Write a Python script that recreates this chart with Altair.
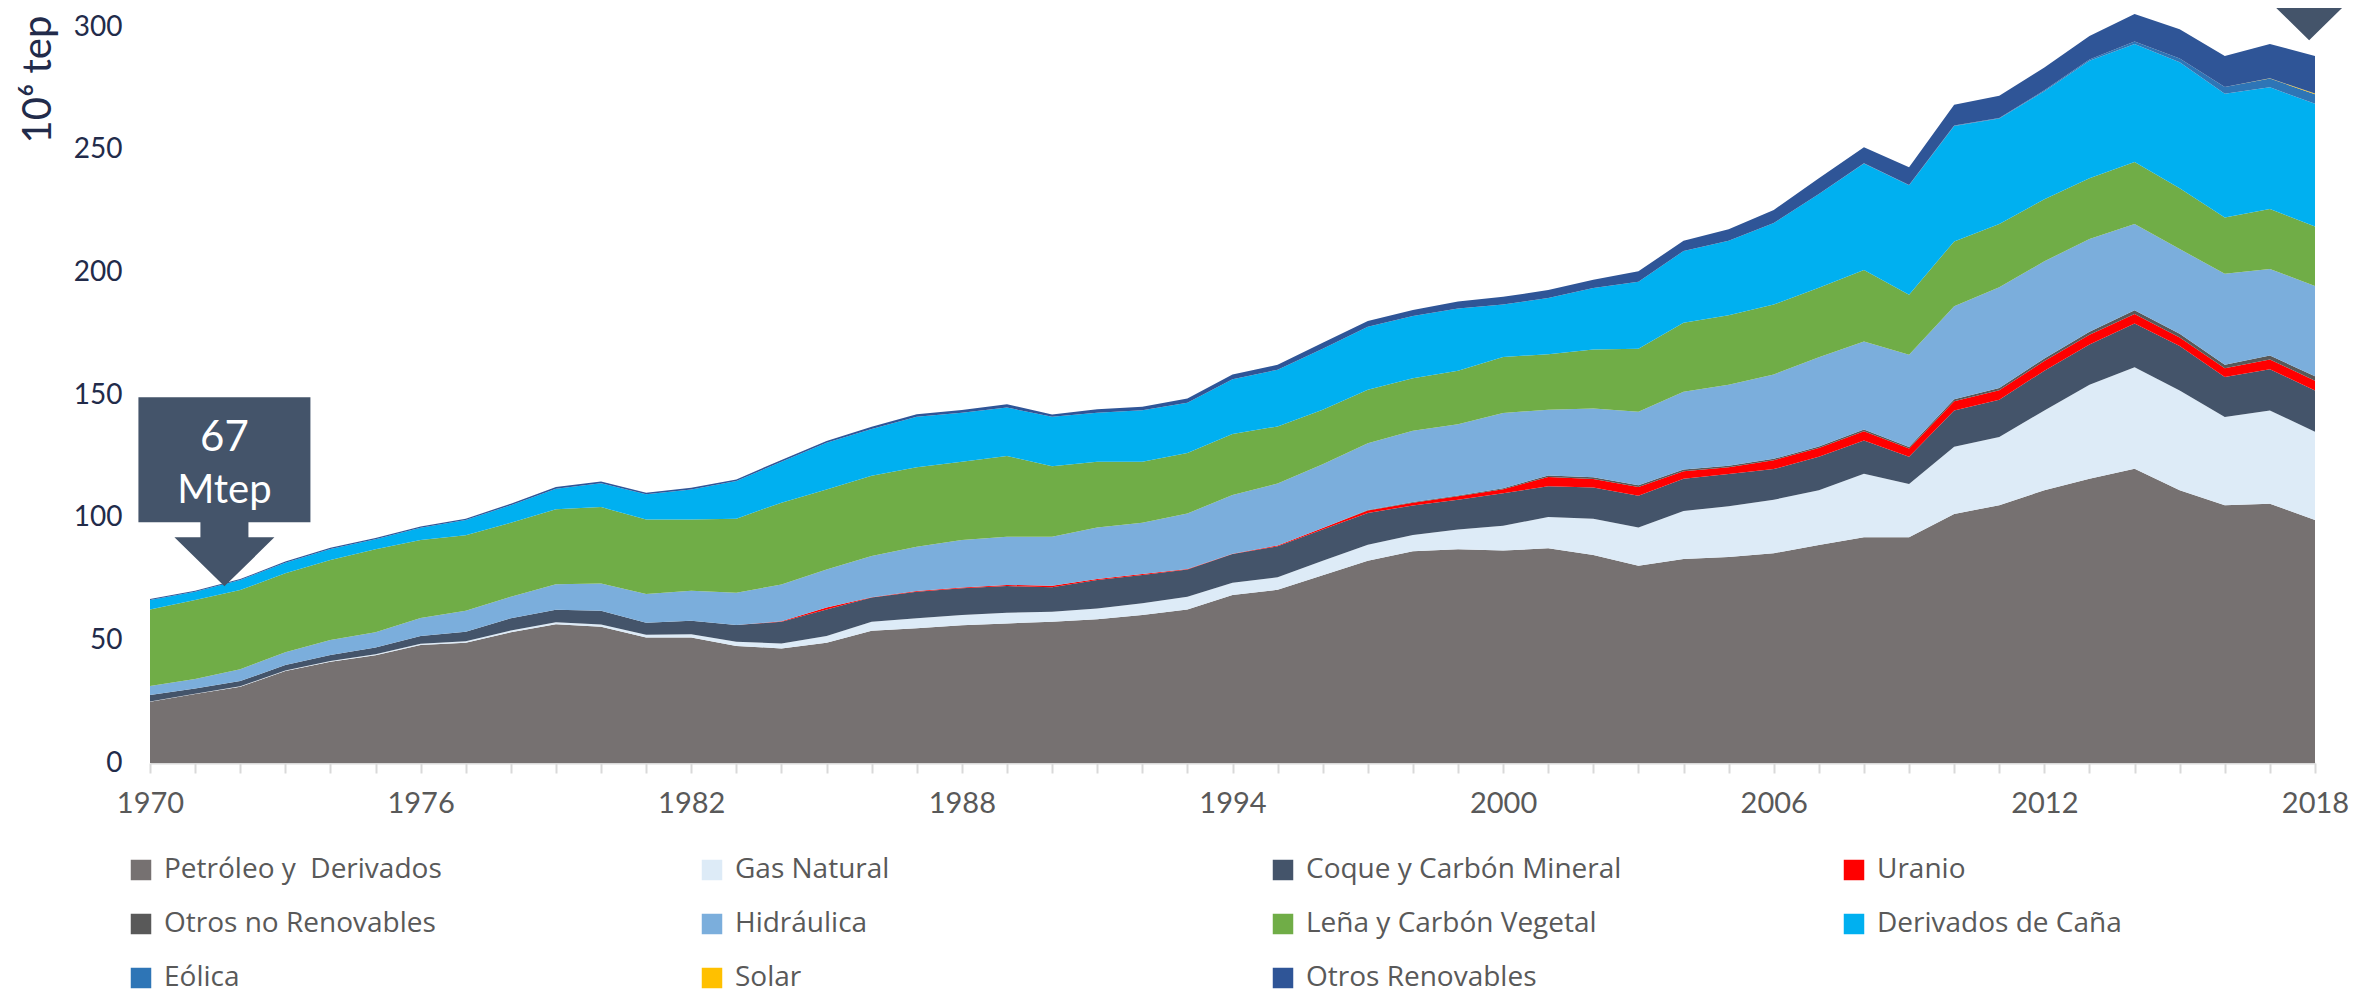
import altair as alt
import pandas as pd

# ---------------- data (Mtep) ----------------
years = list(range(1970, 2019))

petroleo = [25.0, 28.1, 31.1, 37.5, 41.3, 43.9, 48.1, 49.0, 53.3, 56.6,
            55.5, 51.2, 51.2, 47.7, 46.7, 49.0, 53.9, 54.9, 56.1, 56.9,
            57.6, 58.6, 60.3, 62.6, 68.5, 70.6, 76.5, 82.4, 86.3, 87.1,
            86.6, 87.5, 84.8, 80.4, 83.2, 84.0, 85.5, 88.9, 92.0, 92.0,
            101.5, 105.1, 111.2, 115.9, 119.9, 111.2, 105.1, 105.7, 99.1]
gas_natural = [0.1, 0.1, 0.2, 0.2, 0.3, 0.4, 0.5, 0.6, 0.7, 0.8,
               1.0, 1.1, 1.3, 1.7, 2.0, 2.8, 3.7, 4.1, 4.2, 4.3,
               4.1, 4.4, 4.8, 5.2, 5.0, 5.1, 5.9, 6.6, 6.6, 8.1,
               10.1, 12.8, 14.8, 15.6, 19.5, 20.7, 21.8, 22.3, 25.9, 21.7,
               27.4, 27.8, 32.5, 38.3, 41.4, 40.6, 35.9, 38.0, 35.9]
coque_carbon = [2.6, 2.2, 2.1, 2.2, 2.4, 2.8, 3.2, 3.9, 5.0, 5.1,
                5.6, 4.9, 5.5, 6.8, 8.9, 10.8, 9.9, 10.8, 10.9, 10.9,
                9.9, 11.6, 11.5, 11.1, 11.7, 12.6, 12.8, 12.9, 12.1, 12.1,
                13.3, 12.5, 12.7, 12.9, 13.2, 13.1, 12.5, 13.6, 13.6, 11.1,
                14.8, 15.2, 16.2, 16.4, 17.8, 18.2, 16.3, 16.8, 16.8]
uranio = [0.0] * 14 + [0.2, 0.8, 0.1, 0.3, 0.3, 0.5,
                       0.6, 0.4, 0.4, 0.2, 0.1, 0.4, 0.6, 1.0, 1.1, 1.4,
                       1.6, 3.8, 3.5, 3.6, 3.0, 2.8, 3.6, 3.6, 3.7, 3.4,
                       3.8, 3.8, 4.0, 4.0, 3.9, 3.4, 3.6, 4.0, 4.0]
otros_no_renov = [0.0] * 27 + [0.2, 0.3, 0.3,
                               0.4, 0.6, 0.7, 0.7, 0.7, 0.6, 0.6, 0.6, 0.7, 0.6,
                               0.8, 1.0, 1.0, 1.2, 1.5, 1.6, 1.4, 1.6, 1.8]
hidraulica = [3.7, 3.8, 4.8, 5.2, 6.1, 6.2, 7.3, 8.6, 8.8, 10.4,
              11.1, 11.7, 12.2, 13.2, 15.0, 15.5, 16.8, 18.0, 19.4, 19.6,
              20.0, 21.0, 20.9, 22.6, 23.9, 25.2, 26.0, 27.2, 29.0, 29.1,
              30.7, 26.8, 28.0, 30.0, 31.7, 33.0, 34.4, 36.4, 35.9, 37.6,
              37.9, 41.0, 39.6, 37.8, 35.2, 34.5, 37.1, 35.3, 36.8]
lena = [31.2, 32.2, 32.3, 32.2, 32.6, 33.8, 31.8, 30.7, 30.1, 30.5,
        31.1, 30.4, 29.1, 30.2, 33.3, 32.6, 32.7, 32.4, 31.9, 32.9,
        28.8, 26.8, 24.9, 24.7, 24.9, 23.3, 22.2, 21.8, 21.4, 21.8,
        22.8, 22.6, 24.0, 25.7, 28.1, 28.3, 28.5, 28.3, 29.2, 24.5,
        26.4, 25.8, 25.3, 24.7, 25.3, 24.8, 22.9, 24.4, 24.3]
cana = [3.8, 3.4, 4.1, 4.3, 4.5, 4.1, 5.0, 6.2, 7.2, 8.4,
        9.7, 10.2, 12.2, 15.3, 16.7, 19.0, 19.0, 20.6, 20.0, 19.8,
        20.1, 20.0, 21.0, 20.4, 22.3, 23.1, 24.9, 25.7, 25.4, 25.4,
        21.4, 22.9, 25.1, 27.3, 29.3, 30.4, 33.2, 38.2, 43.4, 44.6,
        47.0, 43.0, 44.0, 47.9, 48.1, 51.3, 50.5, 49.6, 50.0]
eolica = [0.0] * 36 + [0.02, 0.05, 0.06, 0.1,
                       0.2, 0.2, 0.4, 0.6, 1.0, 1.6, 2.7, 3.6, 3.9]
solar = [0.0] * 46 + [0.01, 0.07, 0.3]
otros_renov = [0.4, 0.4, 0.4, 0.5, 0.5, 0.5, 0.5, 0.6, 0.6, 0.7,
               0.7, 0.7, 0.7, 0.7, 0.7, 0.8, 1.0, 1.1, 1.1, 1.3,
               1.0, 1.4, 1.4, 1.8, 2.0, 2.0, 2.4, 2.4, 2.4, 2.8,
               3.1, 3.3, 3.4, 4.2, 4.2, 4.7, 5.3, 6.4, 6.5, 7.2,
               8.5, 9.1, 9.3, 9.5, 11.2, 11.9, 12.7, 14.0, 15.3]

fuentes = ["Petróleo y\u00a0 Derivados", "Gas Natural", "Coque y Carbón Mineral",
           "Uranio", "Otros no Renovables", "Hidráulica", "Leña y Carbón Vegetal",
           "Derivados de Caña", "Eólica", "Solar", "Otros Renovables"]
colores = ["#767171", "#DDEBF7", "#44546A", "#FF0000", "#595959", "#7BAEDC",
           "#70AD47", "#00B0F0", "#2E75B6", "#FFC000", "#2F5597"]
valores = [petroleo, gas_natural, coque_carbon, uranio, otros_no_renov, hidraulica,
           lena, cana, eolica, solar, otros_renov]
y_ticks = [0, 50, 100, 150, 200, 250, 300]

# callouts: tip position (year, Mtep) and text
callout_year = [1971.65, 2017.87]
callout_valor = [72.0, 294.6]
callout_numero = ["67"]
callout_unidad = ["Mtep"]

rows = []
for k, (name, vals) in enumerate(zip(fuentes, valores)):
    for yr, v in zip(years, vals):
        rows.append({"year": yr, "valor": v, "fuente": name, "orden": k})
df = pd.DataFrame(rows)

df_callout = pd.DataFrame({"year": callout_year, "valor": callout_valor})
df_text = pd.DataFrame({"year": callout_year[:1], "valor": callout_valor[:1],
                        "numero": callout_numero, "unidad": callout_unidad})

W, H = 2165, 736
x_scale = alt.Scale(domain=[1970, 2018], nice=False, zero=False)
y_scale = alt.Scale(domain=[0, 300], nice=False)

x_axis = alt.Axis(values=years, format="d",
                  labelExpr="datum.value % 6 == 2 ? datum.label : ''",
                  labelFlush=False, labelOverlap=False,
                  labelFont="Lato", labelFontSize=29, labelColor="#595959",
                  labelPadding=16, tickSize=10, tickWidth=2, tickColor="#D9D9D9",
                  domainColor="#D9D9D9", domainWidth=2, grid=False, title=None)
y_axis = alt.Axis(values=y_ticks, domain=False, ticks=False,
                  grid=False, labelFont="Lato", labelFontSize=28,
                  labelColor="#222B4A", labelPadding=28,
                  title="10⁶ tep", titleFont="Lato", titleFontSize=40,
                  titleFontWeight="normal", titleColor="#222B4A",
                  titleAngle=270, titleX=-112, titleY=52,
                  titleAlign="center", titleBaseline="middle")

areas = alt.Chart(df).mark_area(interpolate="linear", strokeWidth=0).encode(
    x=alt.X("year:Q", scale=x_scale, axis=x_axis),
    y=alt.Y("valor:Q", stack="zero", scale=y_scale, axis=y_axis),
    color=alt.Color("fuente:N", scale=alt.Scale(domain=fuentes, range=colores),
                    legend=alt.Legend(orient="none", legendX=-23, legendY=829,
                                      columns=4, direction="horizontal", gridAlign="all",
                                      symbolType="square", symbolSize=420,
                                      symbolStrokeWidth=0, labelFont="Open Sans",
                                      labelFontSize=28, labelColor="#595959",
                                      labelOffset=9, labelLimit=800,
                                      columnPadding=218, rowPadding=26, title=None)),
    order=alt.Order("orden:Q", sort="ascending"),
)

callout_path = ("M-0.43,-0.945H0.43V-0.32H0.12V-0.245H0.25L0,0L-0.25,-0.245"
                "H-0.12V-0.32H-0.43Z")
arrows = alt.Chart(df_callout).mark_point(
    shape=callout_path, size=160000, filled=True, color="#44546A", opacity=1, strokeWidth=0
).encode(
    x=alt.X("year:Q", scale=x_scale, axis=x_axis),
    y=alt.Y("valor:Q", scale=y_scale, axis=y_axis),
)

num_text = alt.Chart(df_text).mark_text(
    font="Lato", fontSize=42, color="white", dy=-135, baseline="alphabetic", align="center"
).encode(
    x=alt.X("year:Q", scale=x_scale, axis=x_axis),
    y=alt.Y("valor:Q", scale=y_scale, axis=y_axis),
    text="numero:N",
)
unit_text = alt.Chart(df_text).mark_text(
    font="Lato", fontSize=40, color="white", dy=-83, baseline="alphabetic", align="center"
).encode(
    x=alt.X("year:Q", scale=x_scale, axis=x_axis),
    y=alt.Y("valor:Q", scale=y_scale, axis=y_axis),
    text="unidad:N",
)

chart = alt.layer(areas, arrows, num_text, unit_text).properties(
    width=W, height=H,
    autosize=alt.AutoSizeParams(type="none"),
    padding={"left": 142, "top": 19, "right": 48, "bottom": 236},
    background="white",
).configure_view(stroke=None)

chart.save("out.html", embed_options={"renderer": "svg", "actions": False})
